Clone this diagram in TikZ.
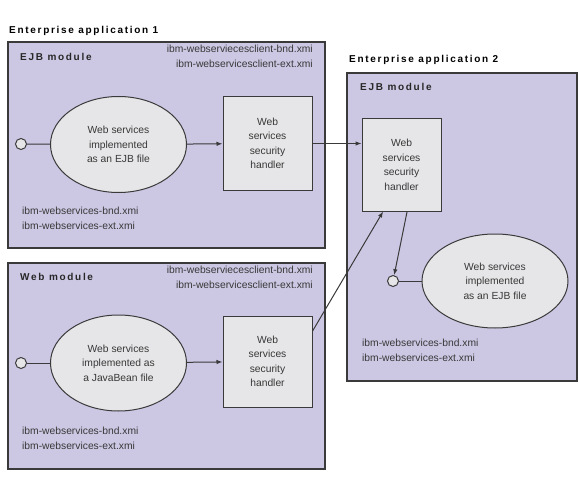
\documentclass[tikz,border=0pt]{standalone}
\usepackage{fontspec}
\setmainfont{Liberation Sans}
\usetikzlibrary{shapes.geometric,arrows.meta,calc}
\definecolor{lav}{HTML}{CCC8E4}
\definecolor{boxgray}{HTML}{E6E6E8}
\definecolor{edge}{HTML}{3A3A3A}
\definecolor{txt}{HTML}{383838}
\newfontfamily\headfont[LetterSpace=17]{Liberation Sans}
\begin{document}
\begin{tikzpicture}[x=1pt,y=-1pt,
  module/.style={draw=edge,fill=lav,line width=1.3pt},
  headtxt/.style={font=\headfont\bfseries\fontsize{10}{11}\selectfont,text=black,inner sep=0pt,anchor=base west},
  modtxt/.style={font=\headfont\bfseries\fontsize{10}{11}\selectfont,text=txt!70!black,inner sep=0pt,anchor=base west},
  filetxt/.style={font=\fontsize{10.3}{15}\selectfont,text=txt,inner sep=0pt,align=left,anchor=north west},
  filetxtr/.style={font=\fontsize{10.3}{15}\selectfont,text=txt,inner sep=0pt,align=right,anchor=north east},
  svc/.style={ellipse,draw=edge,fill=boxgray,line width=1pt,inner sep=0pt,align=center,
    font=\fontsize{10.3}{14.5}\selectfont,text=txt},
  handler/.style={rectangle,draw=edge,fill=boxgray,line width=1pt,inner sep=0pt,align=center,
    font=\fontsize{10.3}{14.5}\selectfont,text=txt},
  port/.style={circle,draw=edge,fill=boxgray,line width=1pt,minimum size=11pt,inner sep=0pt},
  conn/.style={draw=edge,line width=1pt},
  arr/.style={conn,-{Latex[length=6pt,width=4.5pt]}}]
\useasboundingbox (0,0) rectangle (579,495);
\fill[white] (0,0) rectangle (579,495);
% modules
\node[headtxt] (t1) at (9,34) {Enterprise application 1};
\draw[module] (8,42) rectangle (325,248);
\node[modtxt] (m1) at (20,61) {EJB module};
\node[filetxtr] (f1) at (313,45) {ibm-webserviecesclient-bnd.xmi\\ibm-webservicesclient-ext.xmi};
\node[filetxt] (g1) at (22,207) {ibm-webservices-bnd.xmi\\ibm-webservices-ext.xmi};

\draw[module] (8,263) rectangle (325,469);
\node[modtxt] (m2) at (20,280) {Web module};
\node[filetxtr] (f2) at (313,266) {ibm-webserviecesclient-bnd.xmi\\ibm-webservicesclient-ext.xmi};
\node[filetxt] (g2) at (22,427) {ibm-webservices-bnd.xmi\\ibm-webservices-ext.xmi};

\node[headtxt] (t2) at (349,63) {Enterprise application 2};
\draw[module] (347,73) rectangle (577,381);
\node[modtxt] (m3) at (360,91) {EJB module};
\node[filetxt] (g3) at (362,339) {ibm-webservices-bnd.xmi\\ibm-webservices-ext.xmi};

% components
\node[svc,minimum width=136pt,minimum height=96pt] (e1) at (118.5,144.5) {Web services\\implemented\\as an EJB file};
\node[port] (c1) at (21,144) {};
\node[handler,minimum width=89pt,minimum height=93pt] (h1) at (267.5,143.5) {Web\\services\\security\\handler};

\node[svc,minimum width=136pt,minimum height=96pt] (e2) at (118.5,363) {Web services\\implemented as\\a JavaBean file};
\node[port] (c2) at (21,363) {};
\node[handler,minimum width=89pt,minimum height=91pt] (h2) at (267.5,361.5) {Web\\services\\security\\handler};

\node[handler,minimum width=79pt,minimum height=92pt] (h3) at (401.5,165) {Web\\services\\security\\handler};
\node[svc,minimum width=146pt,minimum height=94pt] (e3) at (495,281) {Web services\\implemented\\as an EJB file};
\node[port] (c3) at (393,281) {};

% connectors
\draw[conn] (c1) -- (e1);
\draw[arr] (e1) -- (h1);
\draw[conn] (c2) -- (e2);
\draw[arr] (e2) -- (h2);
\draw[conn] (c3) -- (e3);
\draw[arr] (h1.east) -- (h1.east -| h3.west);
\draw[arr] ($(h2.north east)!0.17!(h2.south east)$) -- ($(h3.south west)!0.27!(h3.south east)$);
\draw[arr] ($(h3.south west)!0.57!(h3.south east)$) -- (c3);
\end{tikzpicture}
\end{document}
